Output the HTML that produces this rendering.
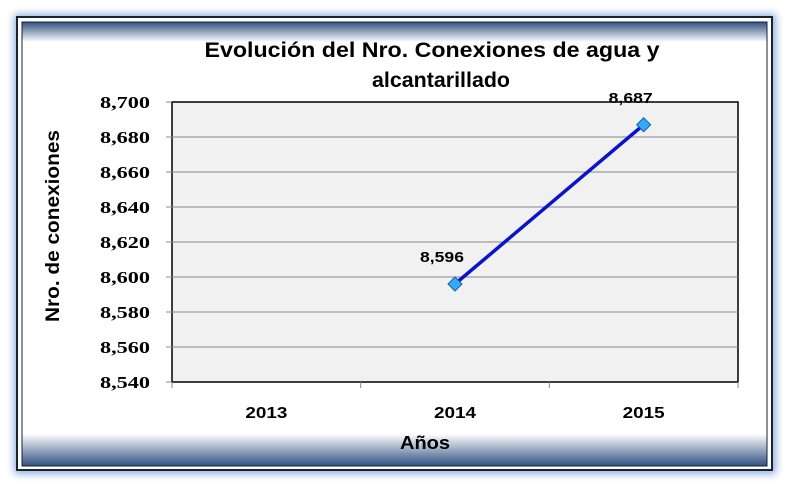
<!DOCTYPE html>
<html><head><meta charset="utf-8"><style>
body{margin:0;width:788px;height:488px;background:#fff;overflow:hidden;font-family:"Liberation Sans",Arial,sans-serif}
</style></head><body>
<svg width="788" height="488" xmlns="http://www.w3.org/2000/svg">
<defs>
<linearGradient id="gt" x1="0" y1="0" x2="0" y2="1"><stop offset="0" stop-color="#2f5080"/><stop offset="1" stop-color="#fff"/></linearGradient>
<linearGradient id="gb" x1="0" y1="1" x2="0" y2="0"><stop offset="0" stop-color="#2f5080"/><stop offset="1" stop-color="#fff"/></linearGradient>
<filter id="sh" x="-5%" y="-5%" width="110%" height="110%"><feGaussianBlur stdDeviation="4"/></filter>
</defs>
<rect x="14" y="14" width="762" height="460" fill="#8fb0e0" filter="url(#sh)"/>
<rect x="17" y="17" width="755" height="453" fill="#fff" stroke="#1a2330" stroke-width="2"/>
<rect x="22" y="22" width="745" height="20" fill="url(#gt)"/>
<rect x="22" y="434" width="745" height="32" fill="url(#gb)"/>
<rect x="22" y="22" width="745" height="444" fill="none" stroke="#1a2330" stroke-width="1"/>
<text x="432" y="57" text-anchor="middle" font-size="21" font-weight="bold" textLength="455" lengthAdjust="spacingAndGlyphs">Evolución del Nro. Conexiones de agua y</text>
<text x="441" y="87" text-anchor="middle" font-size="21" font-weight="bold" textLength="138" lengthAdjust="spacingAndGlyphs">alcantarillado</text>
<rect x="172" y="102" width="566" height="280" fill="#f1f1f1" stroke="#000" stroke-width="1.5"/>
<g id="grid"></g><g id="axes"></g><g id="series"></g>
<text x="425" y="449" text-anchor="middle" font-size="18" font-weight="bold" textLength="50" lengthAdjust="spacingAndGlyphs">Años</text>
<text transform="translate(59,226) rotate(-90)" text-anchor="middle" font-size="19" font-weight="bold" textLength="192" lengthAdjust="spacingAndGlyphs">Nro. de conexiones</text>
</svg>
<script>
const categories=["2013","2014","2015"];
const values=[null,8596,8687];
const valueLabels=["","8,596","8,687"];
const yTicks=[8540,8560,8580,8600,8620,8640,8660,8680,8700];
const yTickLabels=["8,540","8,560","8,580","8,600","8,620","8,640","8,660","8,680","8,700"];
const NS="http://www.w3.org/2000/svg";
const L=172,R=738,T=102,B=382,ymin=8540,ymax=8700;
const y=v=>B-(v-ymin)/(ymax-ymin)*(B-T);
const bw=(R-L)/categories.length;
const x=i=>L+bw*(i+0.5);
function mk(tag,attrs,parent,txt){const e=document.createElementNS(NS,tag);for(const k in attrs)e.setAttribute(k,attrs[k]);if(txt!==undefined)e.textContent=txt;document.getElementById(parent).appendChild(e);return e;}
yTicks.forEach((v,i)=>{
 if(i>0&&i<yTicks.length-1){const g=mk('line',{x1:L,x2:R,y1:y(v),y2:y(v),stroke:'#888','stroke-width':1},'grid');
 
 }
 mk('line',{x1:L-6,x2:L,y1:y(v),y2:y(v),stroke:'#888'},'axes');
 const t=mk('text',{x:150,y:y(v)+6,'text-anchor':'end','font-size':17,'font-weight':'bold','font-family':'Liberation Serif, serif',textLength:50,lengthAdjust:'spacingAndGlyphs'},'axes',yTickLabels[i]);
 
 
});
categories.forEach((c,i)=>{
 mk('line',{x1:L+bw*i,x2:L+bw*i,y1:B,y2:B+6,stroke:'#888'},'axes');
 const t=mk('text',{x:x(i),y:418,'text-anchor':'middle','font-size':16,'font-weight':'bold',textLength:42,lengthAdjust:'spacingAndGlyphs'},'axes',c);
 
 
});
mk('line',{x1:R,x2:R,y1:B,y2:B+6,stroke:'#888'},'axes');
let pts=[];values.forEach((v,i)=>{if(v!==null)pts.push([x(i),y(v)]);});
const pl=mk('polyline',{points:pts.map(p=>p.join(',')).join(' '),fill:'none',stroke:'#0a14c8','stroke-width':3.5},'series');


values.forEach((v,i)=>{if(v===null)return;
 const cx=x(i),cy=y(v);
 const m=mk('polygon',{points:`${cx},${cy-7} ${cx+7},${cy} ${cx},${cy+7} ${cx-7},${cy}`,fill:'#33aaf5',stroke:'#1a5fb0','stroke-width':1},'series');
 
 
 const t=mk('text',{x:cx-13,y:cy-22,'text-anchor':'middle','font-size':15,'font-weight':'bold',textLength:44,lengthAdjust:'spacingAndGlyphs'},'series',valueLabels[i]);
 
 
});
</script>
</body></html>
